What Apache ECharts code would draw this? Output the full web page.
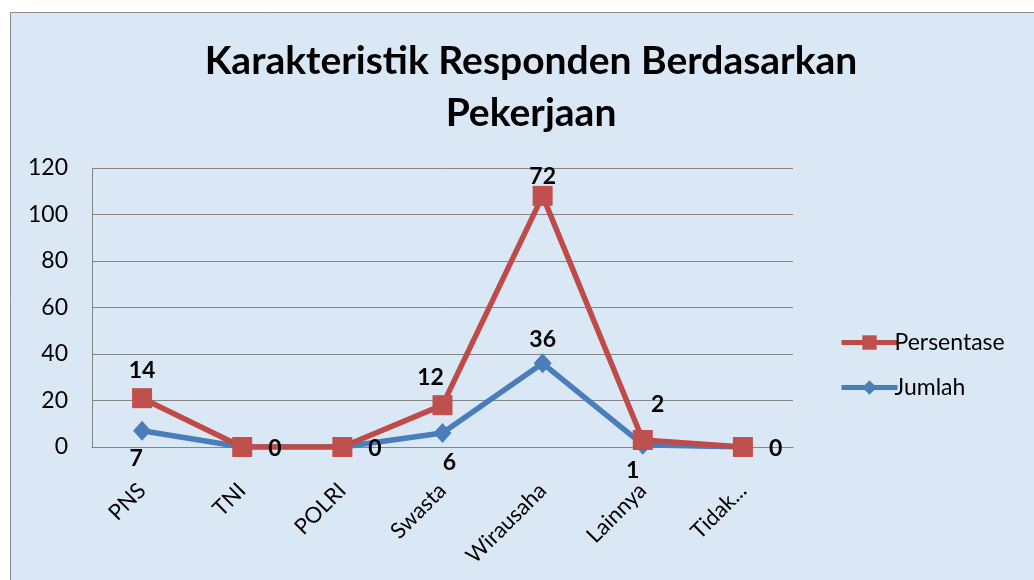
<!DOCTYPE html>
<html>
<head>
<meta charset="utf-8">
<script src="https://cdn.jsdelivr.net/npm/echarts@6/dist/echarts.min.js"></script>
<style>
  html, body { margin: 0; padding: 0; background: #fff; }
  #chart { width: 1034px; height: 580px; }
</style>
</head>
<body>
<div id="chart"></div>
<script>
var categories = ['PNS', 'TNI', 'POLRI', 'Swasta', 'Wirausaha', 'Lainnya', 'Tidak...'];
var jumlah = [7, 0, 0, 6, 36, 1, 0];
var persentase = [14, 0, 0, 12, 72, 2, 0];
var yTicks = [0, 20, 40, 60, 80, 100, 120];

// where each data label sits (Excel put them by hand)
var jumlahLabelPos = ['bottom', null, null, 'bottom', 'top', 'bottom', null];
var persenLabelPos = ['top', 'right', 'right', 'top', 'top', 'top', 'right'];

var font = 'Lato, "Open Sans", sans-serif';

function makeData(values, positions, offsets) {
  var out = [];
  for (var i = 0; i < values.length; i++) {
    var pos = positions[i];
    out.push({
      value: values[i],
      label: pos ? { show: true, position: pos, offset: offsets[i] || [0, 0] } : { show: false }
    });
  }
  return out;
}

var chart = echarts.init(document.getElementById('chart'));
var option = {
  backgroundColor: '#ffffff',
  animation: false,
  graphic: [{
    type: 'rect',
    z: -10,
    shape: { x: 10.5, y: 12.5, width: 1100, height: 700 },
    style: { fill: '#dae7f4', stroke: '#8c8c8c', lineWidth: 1 }
  }],
  title: {
    text: 'Karakteristik Responden Berdasarkan\nPekerjaan',
    left: 526,
    textAlign: 'center',
    top: 30,
    textStyle: { fontFamily: font, fontSize: 39, fontWeight: 'bold', color: '#000', lineHeight: 52 }
  },
  legend: {
    data: ['Persentase', 'Jumlah'],
    orient: 'vertical',
    left: 834,
    top: 326,
    itemWidth: 56,
    itemHeight: 18,
    itemGap: 22,
    lineStyle: { width: 5 },
    textStyle: { fontFamily: font, fontSize: 23, color: '#000', padding: [0, 0, 0, -8] }
  },
  grid: { left: 92, right: 241, top: 168, bottom: 133 },
  xAxis: {
    type: 'category',
    data: categories,
    boundaryGap: true,
    axisLine: { lineStyle: { color: '#868686', width: 1 } },
    axisTick: { show: false },
    axisLabel: { rotate: 45, margin: 40, fontFamily: font, fontSize: 22, color: '#000' }
  },
  yAxis: {
    type: 'value',
    min: yTicks[0],
    max: yTicks[yTicks.length - 1],
    interval: 20,
    axisLine: { show: true, lineStyle: { color: '#868686', width: 1 } },
    axisTick: { show: false },
    splitLine: { lineStyle: { color: '#868686', width: 1 } },
    axisLabel: { margin: 24, fontFamily: font, fontSize: 23, color: '#000' }
  },
  series: [
    {
      name: 'Jumlah',
      type: 'line',
      stack: 'total',
      data: makeData(jumlah, jumlahLabelPos, [[-6, 2], null, null, [7, 4], [0, 2], [-10, 0], null]),
      symbol: 'diamond',
      symbolSize: [18, 20],
      lineStyle: { color: '#4a7ebb', width: 5.5 },
      itemStyle: { color: '#4a7ebb' },
      label: { fontFamily: font, fontSize: 23, fontWeight: 'bold', color: '#000', distance: 4 }
    },
    {
      name: 'Persentase',
      type: 'line',
      stack: 'total',
      data: makeData(persentase, persenLabelPos, [[0, 0], [10, 2], [10, 2], [-12, 0], [0, 8], [15, -8], [10, 2]]),
      symbol: 'rect',
      symbolSize: 20,
      lineStyle: { color: '#be4b48', width: 5.5 },
      itemStyle: { color: '#c0504d' },
      label: { fontFamily: font, fontSize: 23, fontWeight: 'bold', color: '#000', distance: 6 }
    }
  ]
};
chart.setOption(option);
</script>
</body>
</html>
